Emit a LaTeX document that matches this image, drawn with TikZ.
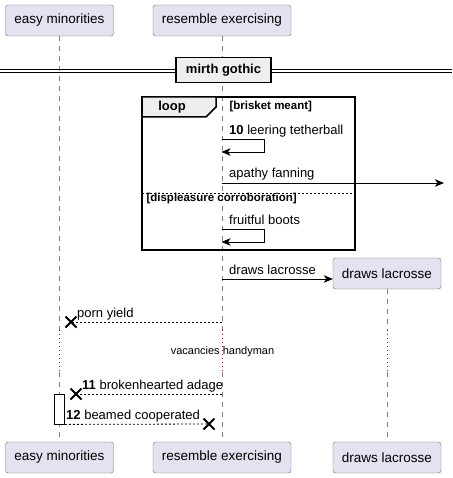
\documentclass[tikz,border=0pt]{standalone}
\usepackage{fontspec}
\setmainfont{Liberation Sans}
\usetikzlibrary{arrows.meta,positioning,shapes.misc}
\definecolor{partfill}{HTML}{E2E2F0}
\definecolor{partdraw}{HTML}{6E6E6E}
\definecolor{lifegray}{HTML}{808080}
\definecolor{delayred}{HTML}{A80036}
\definecolor{framefill}{HTML}{EEEEEE}

\begin{document}
\begin{tikzpicture}[
                x=1pt, y=-1pt,
                font=\fontsize{13}{15}\selectfont,
                party/.style={draw=partdraw, fill=partfill, rounded corners=2.5pt, minimum height=31pt, inner sep=0pt, font=\fontsize{13.5}{15}\selectfont},
                lifeline/.style={draw=lifegray, dash pattern=on 5pt off 5pt},
                delayline/.style={draw=delayred, dash pattern=on 1pt off 3pt},
                msg/.style={-{Stealth[length=9pt,width=7.5pt,inset=2.5pt]}, line width=0.9pt},
                selfmsg/.style={msg, line width=0.8pt},
                reply/.style={line width=0.8pt, dash pattern=on 2pt off 2pt},
                xmark/.style={cross out, draw, line width=2pt, minimum size=9pt, inner sep=0pt},
                grouptab/.style={draw, fill=framefill, line width=1.5pt},
                guard/.style={font=\fontsize{11.5}{13}\selectfont\bfseries, anchor=west},
                label/.style={anchor=base west, inner sep=0pt}
            ]
            \useasboundingbox (0,0) rectangle (452,478);
            % participants
            \node[party, minimum width=108pt] (easyT) at (59.5,20.5) {easy minorities};
            \node[party, minimum width=138pt] (resT) at (222,20.5) {resemble exercising};
            \node[party, minimum width=108pt] (easyB) at (59.5,457.5) {easy minorities};
            \node[party, minimum width=138pt] (resB) at (222,457.5) {resemble exercising};
            \node[party, minimum width=108pt] (drawsT) at (387,273.5) {draws lacrosse};
            \node[party, minimum width=108pt] (drawsB) at (387,457.5) {draws lacrosse};
            % lifelines, with the delay in dots
            \foreach \top/\bot in {easyT/easyB, resT/resB, drawsT/drawsB} {
                \draw[lifeline] (\top.south) -- (\top.south |- 0,330);
                \draw[delayline] (\top.south |- 0,330) -- (\top.south |- 0,372);
                \draw[lifeline] (\top.south |- 0,372) -- (\bot.north);
            }
            % divider
            \draw[line width=1pt] (0,69.5) -- (452,69.5);
            \draw[line width=1pt] (0,73) -- (452,73);
            \node[draw, fill=framefill, line width=1.5pt, minimum width=95pt, minimum height=25pt, inner sep=0pt, font=\fontsize{13}{15}\selectfont\bfseries] (divider) at (223.5,70) {mirth gothic};
            % loop frame
            \draw[line width=1.5pt] (142,97) rectangle (355,250);
            \draw[grouptab] (142,97) -- (216,97) -- (216,107) -- (206,117) -- (142,117) -- cycle;
            \node[font=\fontsize{13}{15}\selectfont\bfseries] (loop) at (172,107.5) {loop};
            \node[guard] (guardA) at (226,107) {[brisket meant]};
            \draw[line width=0.8pt, dash pattern=on 2pt off 2pt] (142,193) -- (355,193);
            \node[guard] (guardB) at (143,199) {[displeasure corroboration]};
            % messages
            \coordinate (m1a) at (221.5,139);
            \coordinate (m1b) at (221.5,152);
            \node[label] (l1) at (229,135) {\textbf{10} leering tetherball};
            \draw[selfmsg] (m1a) -- ++(43,0) |- (m1b);
            \coordinate (m2a) at (221.5,183);
            \coordinate (m2b) at (444,183);
            \node[label] (l2) at (229,178) {apathy fanning};
            \draw[msg] (m2a) -- (m2b);
            \coordinate (m3a) at (221.5,229);
            \coordinate (m3b) at (221.5,242);
            \node[label] (l3) at (229,224) {fruitful boots};
            \draw[selfmsg] (m3a) -- ++(43,0) |- (m3b);
            \coordinate (m4a) at (221.5,279);
            \node[label] (l4) at (229,274) {draws lacrosse};
            \draw[msg] (m4a) -- (m4a -| drawsT.west);
            \coordinate (m5a) at (221.5,322);
            \node[xmark] (x5) at (71,322) {};
            \node[label] (l5) at (77,317) {porn yield};
            \draw[reply] (m5a) -- (x5.center);
            \node[font=\fontsize{11}{13}\selectfont] (delay) at (222.5,352) {vacancies handyman};
            \coordinate (m6a) at (221.5,394);
            \node[xmark] (x6) at (76,394) {};
            \node[label] (l6) at (82,389.5) {\textbf{11} brokenhearted adage};
            \draw[reply] (m6a) -- (x6.center);
            \node[draw, fill=white, line width=0.8pt, minimum width=10pt, minimum height=30pt, inner sep=0pt] (act) at (59.5,409) {};
            \node[xmark] (x7) at (209,424) {};
            \node[label] (l7) at (66,419.5) {\textbf{12} beamed cooperated};
            \draw[reply] (act.south east) -- (x7.center);
        \end{tikzpicture}
\end{document}
